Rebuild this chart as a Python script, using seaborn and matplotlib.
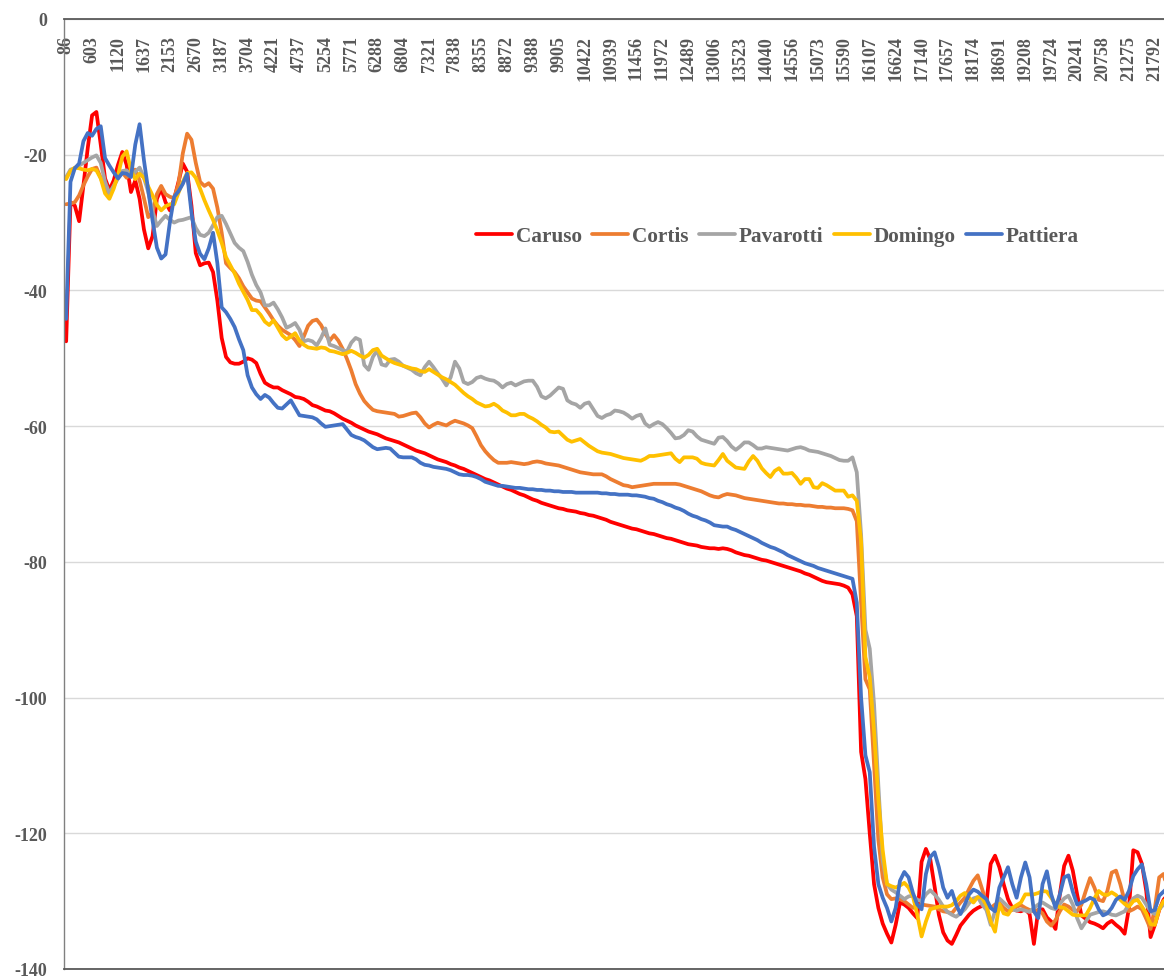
import numpy as np
import pandas as pd
import matplotlib
matplotlib.use("Agg")
import matplotlib.pyplot as plt
import seaborn as sns

# FFT bins (44.1 kHz, 512-point), one category per bin
BIN_HZ = 44100 / 512
bins = np.arange(1, 257)
tick_bins = bins[::6]
tick_labels = [f"{k * BIN_HZ:.0f}" for k in tick_bins]

singers = ["Caruso", "Cortis", "Pavarotti", "Domingo", "Pattiera"]
colors = ["#FF0000", "#ED7D31", "#A5A5A5", "#FFC000", "#4472C4"]

caruso = [
    -47.5, -27.0, -27.5, -29.8, -24.5, -19.0, -14.2, -13.7, -18.5, -23.5,
    -25.2, -23.8, -21.5, -19.6, -21.5, -25.5, -23.8, -26.5, -31.0, -33.8,
    -32.0, -26.5, -25.0, -27.0, -28.2, -26.5, -24.0, -21.3, -22.5, -27.5,
    -34.5, -36.3, -36.0, -35.9, -37.3, -41.5, -47.0, -49.8, -50.6, -50.8,
    -50.8, -50.5, -50.0, -50.2, -50.7, -52.3, -53.6, -54.0, -54.3, -54.3,
    -54.7, -55.0, -55.3, -55.7, -55.8, -56.0, -56.4, -56.9, -57.1, -57.4,
    -57.7, -57.8, -58.1, -58.5, -58.9, -59.2, -59.5, -59.9, -60.2, -60.5,
    -60.8, -61.0, -61.2, -61.5, -61.8, -62.0, -62.2, -62.4, -62.7, -63.0,
    -63.3, -63.6, -63.8, -64.0, -64.3, -64.6, -64.9, -65.1, -65.3, -65.6,
    -65.8, -66.1, -66.3, -66.6, -66.9, -67.2, -67.5, -67.8, -68.0, -68.3,
    -68.6, -68.9, -69.2, -69.4, -69.7, -70.0, -70.2, -70.5, -70.8, -71.0,
    -71.3, -71.5, -71.7, -71.9, -72.1, -72.2, -72.4, -72.5, -72.6, -72.8,
    -72.9, -73.1, -73.2, -73.4, -73.6, -73.8, -74.1, -74.3, -74.5, -74.7,
    -74.9, -75.1, -75.2, -75.4, -75.6, -75.8, -75.9, -76.1, -76.3, -76.5,
    -76.6, -76.8, -77.0, -77.2, -77.4, -77.5, -77.6, -77.8, -77.9, -78.0,
    -78.0, -78.1, -78.0, -78.1, -78.3, -78.6, -78.8, -79.0, -79.1, -79.3,
    -79.5, -79.7, -79.8, -80.0, -80.2, -80.4, -80.6, -80.8, -81.0, -81.2,
    -81.4, -81.7, -81.9, -82.2, -82.5, -82.8, -83.0, -83.1, -83.2, -83.3,
    -83.5, -83.8, -84.8, -88.0, -108.0, -112.0, -120.0, -127.5, -131.0, -133.3,
    -134.8, -136.1, -133.5, -130.2, -130.5, -131.0, -131.8, -132.5, -124.2, -122.3,
    -123.8, -127.8, -132.0, -134.6, -135.8, -136.3, -135.0, -133.6, -132.8, -132.0,
    -131.4, -131.0, -130.7, -130.3, -124.5, -123.3, -125.0, -127.5, -129.7, -131.0,
    -131.4, -131.5, -131.2, -131.9, -136.3, -131.3, -131.2, -132.4, -133.0, -134.1,
    -129.0, -124.8, -123.3, -125.5, -129.0, -132.1, -132.6, -133.1, -133.3, -133.6,
    -134.0, -133.3, -132.9, -133.5, -134.0, -134.8, -131.0, -122.5, -122.8, -124.5,
    -128.5, -135.3, -133.5, -131.3, -129.8, -129.0,
]

cortis = [
    -27.3, -27.2, -27.0, -26.0, -24.5, -23.2, -22.1, -21.9, -23.4, -25.0,
    -25.8, -24.6, -23.2, -22.6, -23.4, -22.3, -22.2, -23.8, -26.4, -29.2,
    -28.5, -25.8, -24.6, -25.8, -26.2, -26.4, -24.3, -19.8, -16.9, -17.8,
    -21.2, -24.0, -24.6, -24.2, -25.0, -27.8, -31.5, -36.0, -36.7, -37.3,
    -38.2, -39.4, -40.3, -41.2, -41.5, -41.6, -42.5, -43.4, -44.4, -45.2,
    -45.8, -46.2, -46.6, -47.3, -48.2, -46.8, -45.2, -44.5, -44.3, -45.1,
    -46.4, -47.4, -46.6, -47.4, -48.6, -50.1, -51.8, -53.8, -55.2, -56.3,
    -57.0, -57.6, -57.8, -57.9, -58.0, -58.1, -58.2, -58.6, -58.5, -58.3,
    -58.1, -58.0, -58.7, -59.6, -60.2, -59.8, -59.5, -59.7, -59.9, -59.5,
    -59.2, -59.4, -59.6, -59.9, -60.3, -61.5, -62.8, -63.7, -64.4, -65.0,
    -65.4, -65.4, -65.4, -65.3, -65.4, -65.5, -65.6, -65.5, -65.3, -65.2,
    -65.3, -65.5, -65.6, -65.7, -65.8, -66.0, -66.2, -66.4, -66.6, -66.8,
    -66.9, -67.0, -67.1, -67.1, -67.1, -67.4, -67.8, -68.1, -68.4, -68.7,
    -68.8, -69.0, -68.9, -68.8, -68.7, -68.6, -68.5, -68.5, -68.5, -68.5,
    -68.5, -68.5, -68.6, -68.8, -69.0, -69.2, -69.4, -69.6, -69.9, -70.2,
    -70.4, -70.5, -70.2, -70.0, -70.1, -70.2, -70.4, -70.6, -70.7, -70.8,
    -70.9, -71.0, -71.1, -71.2, -71.3, -71.4, -71.4, -71.5, -71.5, -71.6,
    -71.6, -71.7, -71.7, -71.8, -71.9, -71.9, -72.0, -72.0, -72.1, -72.1,
    -72.1, -72.2, -72.4, -74.0, -86.0, -97.3, -98.8, -110.0, -121.0, -126.5,
    -129.0, -129.7, -129.6, -129.7, -130.0, -130.5, -131.0, -130.8, -130.5, -130.6,
    -130.7, -130.8, -131.2, -131.5, -131.6, -131.8, -131.0, -130.2, -129.5, -128.2,
    -127.0, -126.2, -128.2, -130.3, -131.0, -130.5, -130.3, -131.0, -131.5, -131.3,
    -130.8, -130.6, -131.0, -131.3, -131.5, -131.3, -131.8, -133.0, -133.6, -132.8,
    -131.5, -130.5, -130.8, -131.3, -131.5, -130.5, -128.5, -126.6, -128.0, -129.8,
    -130.0, -128.5, -125.8, -125.5, -127.5, -130.0, -131.5, -131.2, -130.8, -131.2,
    -132.6, -134.1, -131.0, -126.5, -126.0, -128.5,
]

pavarotti = [
    -23.3, -22.2, -22.0, -21.6, -21.2, -20.8, -20.4, -20.1, -21.2, -24.0,
    -25.7, -24.6, -23.5, -22.4, -22.3, -23.1, -22.5, -21.9, -23.4, -25.5,
    -28.3, -30.5, -29.7, -29.0, -29.6, -30.0, -29.7, -29.6, -29.4, -29.2,
    -30.8, -31.8, -32.0, -31.5, -30.4, -29.2, -29.0, -30.2, -31.6, -33.0,
    -33.7, -34.2, -35.8, -37.7, -39.2, -40.3, -42.2, -42.2, -41.8, -42.8,
    -44.0, -45.5, -45.2, -44.8, -45.8, -47.5, -47.3, -47.5, -48.1, -47.0,
    -45.6, -48.0, -48.2, -48.5, -48.8, -49.0, -47.7, -47.0, -47.3, -51.0,
    -51.7, -49.8, -48.8, -50.9, -51.1, -50.2, -50.1, -50.5, -51.1, -51.4,
    -51.7, -52.2, -52.5, -51.3, -50.5, -51.3, -52.2, -53.0, -54.0, -52.8,
    -50.5, -51.5, -53.5, -53.8, -53.5, -52.9, -52.7, -53.0, -53.2, -53.3,
    -53.7, -54.3, -53.8, -53.6, -54.0, -53.7, -53.4, -53.3, -53.3, -54.2,
    -55.6, -55.9, -55.5, -54.9, -54.3, -54.5, -56.2, -56.6, -56.8, -57.3,
    -56.7, -56.5, -57.5, -58.5, -58.8, -58.4, -58.2, -57.7, -57.8, -58.0,
    -58.4, -58.9, -58.5, -58.3, -59.6, -60.1, -59.7, -59.4, -59.7, -60.3,
    -61.0, -61.8, -61.7, -61.3, -60.6, -60.8, -61.5, -62.0, -62.2, -62.4,
    -62.6, -61.7, -61.6, -62.2, -63.0, -63.5, -63.0, -62.4, -62.4, -62.8,
    -63.3, -63.3, -63.1, -63.2, -63.3, -63.4, -63.5, -63.6, -63.4, -63.2,
    -63.1, -63.3, -63.6, -63.7, -63.8, -64.0, -64.2, -64.4, -64.7, -65.0,
    -65.1, -65.1, -64.6, -66.8, -76.0, -90.0, -92.8, -101.0, -113.0, -124.0,
    -127.5, -128.3, -128.7, -129.2, -129.7, -129.3, -129.2, -129.8, -130.0, -129.0,
    -128.4, -129.0, -129.8, -130.8, -131.6, -132.0, -132.3, -131.8, -131.2, -130.3,
    -129.6, -129.4, -130.5, -131.3, -133.5, -131.5, -129.6, -130.2, -130.8, -131.2,
    -131.4, -131.2, -131.4, -131.6, -131.0, -130.5, -130.2, -130.6, -131.0, -131.2,
    -130.4, -129.6, -129.2, -130.5, -132.5, -134.0, -133.0, -132.0, -131.8, -131.6,
    -131.5, -131.7, -132.0, -132.1, -131.8, -131.5, -130.5, -129.6, -129.2, -129.5,
    -130.5, -131.5, -131.9, -131.2, -130.5, -130.0,
]

domingo = [
    -23.6, -22.4, -21.9, -22.0, -22.2, -22.3, -22.1, -22.3, -23.5, -25.7,
    -26.5, -25.0, -23.0, -20.3, -19.5, -22.3, -23.6, -22.8, -23.4, -24.7,
    -26.0, -27.4, -28.2, -27.6, -27.3, -27.3, -25.6, -24.0, -22.7, -22.6,
    -23.4, -25.0, -26.7, -28.2, -29.6, -31.2, -33.0, -35.1, -36.3, -37.5,
    -39.0, -40.2, -41.4, -42.9, -42.9, -43.6, -44.6, -45.1, -44.4, -45.5,
    -46.6, -47.2, -46.8, -46.3, -47.4, -48.0, -48.4, -48.5, -48.6, -48.4,
    -48.5, -48.9, -49.0, -49.2, -49.4, -49.2, -48.9, -49.2, -49.6, -49.9,
    -49.5, -48.8, -48.6, -49.6, -50.0, -50.4, -50.7, -50.9, -51.1, -51.3,
    -51.5, -51.6, -51.9, -52.0, -51.6, -52.0, -52.4, -52.8, -53.1, -53.5,
    -53.9, -54.5, -55.1, -55.6, -56.0, -56.5, -56.8, -57.1, -57.0, -56.7,
    -57.1, -57.7, -58.0, -58.4, -58.4, -58.2, -58.2, -58.6, -58.9, -59.3,
    -59.8, -60.2, -60.8, -60.9, -60.8, -61.4, -62.0, -62.3, -62.1, -61.9,
    -62.4, -62.9, -63.3, -63.7, -63.9, -64.0, -64.1, -64.3, -64.5, -64.7,
    -64.8, -64.9, -65.0, -65.1, -64.8, -64.4, -64.4, -64.3, -64.2, -64.1,
    -64.0, -64.8, -65.3, -64.6, -64.6, -64.6, -64.8, -65.4, -65.6, -65.7,
    -65.8, -65.0, -64.1, -65.1, -65.6, -66.1, -66.2, -66.3, -65.2, -64.4,
    -65.1, -66.2, -66.9, -67.5, -66.6, -66.2, -67.0, -67.0, -66.9, -67.6,
    -68.5, -67.8, -67.8, -69.0, -69.1, -68.4, -68.7, -69.1, -69.5, -69.5,
    -69.5, -70.4, -70.2, -71.0, -77.0, -94.0, -97.0, -105.0, -115.0, -122.5,
    -127.5, -127.8, -128.0, -127.7, -127.3, -128.0, -129.3, -132.0, -135.2, -133.0,
    -131.2, -131.0, -130.8, -130.8, -130.8, -130.6, -130.0, -129.2, -128.8, -129.5,
    -130.2, -129.4, -129.5, -130.6, -133.0, -134.5, -130.4, -131.8, -132.0, -131.0,
    -130.6, -130.2, -129.0, -129.0, -129.0, -128.8, -128.5, -128.6, -129.5, -130.5,
    -130.9, -131.0, -131.5, -132.0, -132.1, -132.1, -132.1, -131.0, -129.6, -128.5,
    -129.0, -129.1, -128.7, -129.1, -129.8, -130.4, -130.8, -130.0, -129.8, -130.8,
    -131.8, -133.4, -133.5, -131.2, -130.0, -129.5,
]

pattiera = [
    -44.2, -24.0, -22.0, -21.3, -18.0, -16.8, -17.2, -16.2, -15.8, -20.5,
    -21.6, -22.6, -23.5, -22.7, -22.8, -23.3, -18.5, -15.5, -20.8, -25.2,
    -29.7, -33.7, -35.3, -34.7, -30.0, -26.2, -25.4, -24.3, -22.8, -28.5,
    -32.8, -34.6, -35.4, -33.8, -31.5, -36.0, -42.5, -43.2, -44.2, -45.4,
    -47.2, -48.8, -52.5, -54.3, -55.3, -56.0, -55.4, -55.8, -56.6, -57.3,
    -57.4, -56.8, -56.2, -57.3, -58.4, -58.5, -58.6, -58.7, -59.0, -59.6,
    -60.1, -60.0, -59.9, -59.8, -59.7, -60.5, -61.3, -61.6, -61.8, -62.1,
    -62.6, -63.1, -63.4, -63.3, -63.2, -63.3, -63.9, -64.5, -64.6, -64.6,
    -64.6, -64.9, -65.4, -65.7, -65.8, -66.0, -66.1, -66.2, -66.3, -66.5,
    -66.8, -67.1, -67.2, -67.2, -67.3, -67.5, -67.8, -68.2, -68.4, -68.6,
    -68.8, -68.8, -68.9, -69.0, -69.1, -69.1, -69.2, -69.3, -69.3, -69.4,
    -69.4, -69.5, -69.5, -69.6, -69.6, -69.7, -69.7, -69.7, -69.8, -69.8,
    -69.8, -69.8, -69.8, -69.8, -69.9, -69.9, -70.0, -70.0, -70.1, -70.1,
    -70.1, -70.2, -70.2, -70.3, -70.4, -70.6, -70.7, -71.0, -71.2, -71.5,
    -71.7, -72.0, -72.2, -72.5, -72.9, -73.2, -73.4, -73.7, -73.9, -74.2,
    -74.6, -74.7, -74.8, -74.8, -75.1, -75.3, -75.6, -75.9, -76.2, -76.5,
    -76.8, -77.2, -77.5, -77.8, -78.0, -78.3, -78.6, -79.0, -79.3, -79.6,
    -79.9, -80.2, -80.4, -80.6, -80.9, -81.1, -81.3, -81.5, -81.7, -81.9,
    -82.1, -82.3, -82.5, -86.0, -100.0, -108.5, -111.0, -122.0, -127.5, -129.5,
    -131.0, -133.0, -131.0, -127.0, -125.7, -126.5, -128.8, -130.5, -131.2, -126.0,
    -123.5, -122.8, -125.0, -128.0, -129.5, -128.5, -130.5, -131.9, -130.5, -129.0,
    -128.3, -128.6, -129.2, -129.7, -131.0, -131.5, -128.0, -126.5, -125.0, -127.5,
    -129.5, -126.5, -124.3, -126.5, -131.5, -132.5, -127.5, -125.6, -129.0, -131.0,
    -129.0, -126.5, -126.2, -128.6, -130.5, -130.2, -129.9, -129.5, -129.8, -131.2,
    -132.1, -131.8, -131.0, -129.8, -129.3, -129.8, -128.5, -126.3, -125.3, -124.6,
    -127.5, -131.5, -131.3, -129.2, -128.6, -128.0,
]

series = [caruso, cortis, pavarotti, domingo, pattiera]
df = pd.DataFrame({
    "bin": np.tile(bins, len(singers)),
    "level": np.concatenate(series),
    "singer": np.repeat(singers, len(bins)),
})

sns.set_style("white")
plt.rcParams["font.family"] = ["Liberation Serif", "DejaVu Serif"]
plt.rcParams["font.weight"] = "bold"
plt.rcParams["axes.unicode_minus"] = False
plt.rcParams["lines.solid_joinstyle"] = "round"
plt.rcParams["lines.solid_capstyle"] = "round"

GREY = "#595959"

fig = plt.figure(figsize=(11.64, 9.79), dpi=100)
# plot area runs a little past the right edge, as in the cropped original
ax = fig.add_axes([64 / 1164, 9 / 979, 1106 / 1164, 950 / 979])

sns.lineplot(data=df, x="bin", y="level", hue="singer", hue_order=singers,
             palette=dict(zip(singers, colors)), estimator=None, sort=False,
             linewidth=2.7, legend=False, ax=ax)

ax.set_xlim(0.5, 256.5)
ax.set_ylim(-140, 0)
ax.set_xlabel("")
ax.set_ylabel("")

yticks = list(range(-140, 1, 20))
ax.set_yticks(yticks)
ax.set_yticklabels([str(v) for v in yticks])
ax.tick_params(axis="y", length=0, pad=12, labelsize=13, labelcolor=GREY)

ax.set_xticks(tick_bins)
ax.set_xticklabels(tick_labels)
ax.tick_params(axis="x", length=0, bottom=False, top=False, labelbottom=False,
               labeltop=True, labelrotation=90, pad=-11.5, labelsize=13,
               labelcolor=GREY)
for t in ax.xaxis.get_major_ticks():
    t.label2.set_va("top")

ax.grid(False)
ax.yaxis.grid(True, color="#D9D9D9", linewidth=1.0)
ax.set_axisbelow(True)
ax.spines["right"].set_visible(False)
ax.spines["top"].set_color(GREY)
ax.spines["top"].set_linewidth(1.3)
ax.spines["bottom"].set_color(GREY)
ax.spines["bottom"].set_linewidth(1.3)
ax.spines["left"].set_color("#808080")
ax.spines["left"].set_linewidth(1.0)

ax.legend(handles=ax.lines[:5], labels=singers, loc="center",
          bbox_to_anchor=(777.5 / 1164, 1 - 237 / 979),
          bbox_transform=fig.transFigure, ncol=5, frameon=False,
          fontsize=15.3, handlelength=1.7, handletextpad=0.19,
          columnspacing=0.47, borderpad=0, labelcolor=GREY)

fig.savefig("out.png", dpi=100)
